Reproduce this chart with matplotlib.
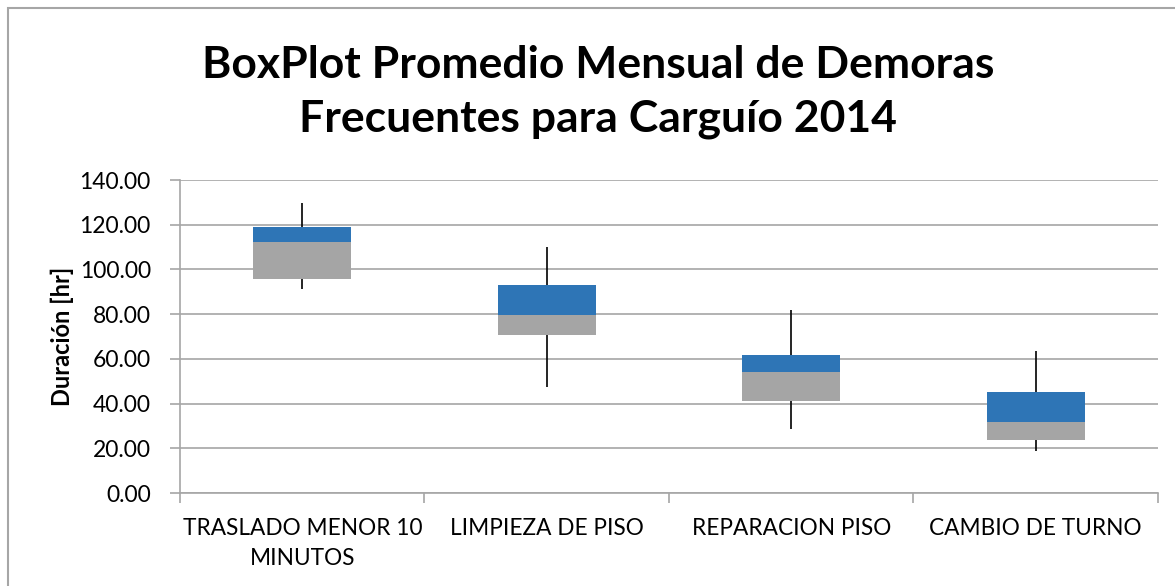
import matplotlib
matplotlib.use("Agg")
import matplotlib.pyplot as plt
from matplotlib.patches import Rectangle
import numpy as np

categories = ["TRASLADO MENOR 10\nMINUTOS", "LIMPIEZA DE PISO", "REPARACION PISO", "CAMBIO DE TURNO"]
q1 = [95.7, 70.7, 41.0, 23.8]
median = [112.1, 79.6, 54.1, 31.9]
q3 = [119.2, 93.1, 61.9, 45.3]
wmin = [91.4, 47.2, 28.6, 18.9]
wmax = [129.6, 110.2, 81.8, 63.3]
yticks = [0, 20, 40, 60, 80, 100, 120, 140]

plt.rcParams['font.family'] = ['Lato', 'DejaVu Sans']

fig = plt.figure(figsize=(11.75, 5.86), dpi=100)
ax = fig.add_axes([0.1532, 0.1587, 0.8323, 0.5341])

x = np.arange(1, len(categories) + 1)
q1a = np.array(q1); meda = np.array(median); q3a = np.array(q3)
w = 0.4
ax.vlines(x, wmin, wmax, color='black', lw=1.2, zorder=2)
ax.bar(x, meda - q1a, bottom=q1a, width=w, color='#A5A5A5', zorder=3)
ax.bar(x, q3a - meda, bottom=meda, width=w, color='#2E75B6', zorder=3)

ax.set_ylim(0, 140)
ax.set_xlim(0.5, len(categories) + 0.5)
ax.set_yticks(yticks)
ax.set_yticklabels([f"{v:.2f}" for v in yticks], fontsize=16.5)
ax.yaxis.grid(True, color='#A6A6A6', lw=1.2, zorder=0)
ax.set_axisbelow(True)

ax.set_xticks(np.arange(0.5, len(categories) + 1, 1))
ax.set_xticklabels([])
ax.set_xticks(x, minor=True)
ax.set_xticklabels(categories, minor=True, fontsize=16.3, linespacing=1.5)
ax.tick_params(axis='x', which='minor', length=0, pad=18)
ax.tick_params(axis='x', which='major', length=7, color='#A6A6A6', width=1.2)
ax.tick_params(axis='y', length=7, color='#A6A6A6', width=1.2, pad=14)

for s in ['top', 'right']:
    ax.spines[s].set_visible(False)
for s in ['left', 'bottom']:
    ax.spines[s].set_color('#A6A6A6')
    ax.spines[s].set_linewidth(1.2)

ax.set_ylabel("Duración [hr]", fontsize=17, fontweight='bold', labelpad=4)

fig.text(0.509, 0.843, "BoxPlot Promedio Mensual de Demoras\nFrecuentes para Carguío 2014",
         ha='center', va='center', fontsize=32, fontweight='bold', linespacing=1.42)

fig.patches.append(Rectangle((8 / 1175, -0.1), 1.2, 1.1 - 8 / 586, transform=fig.transFigure,
                             fill=False, edgecolor='#A6A6A6', lw=1.5))

fig.savefig("out.png", dpi=100)
